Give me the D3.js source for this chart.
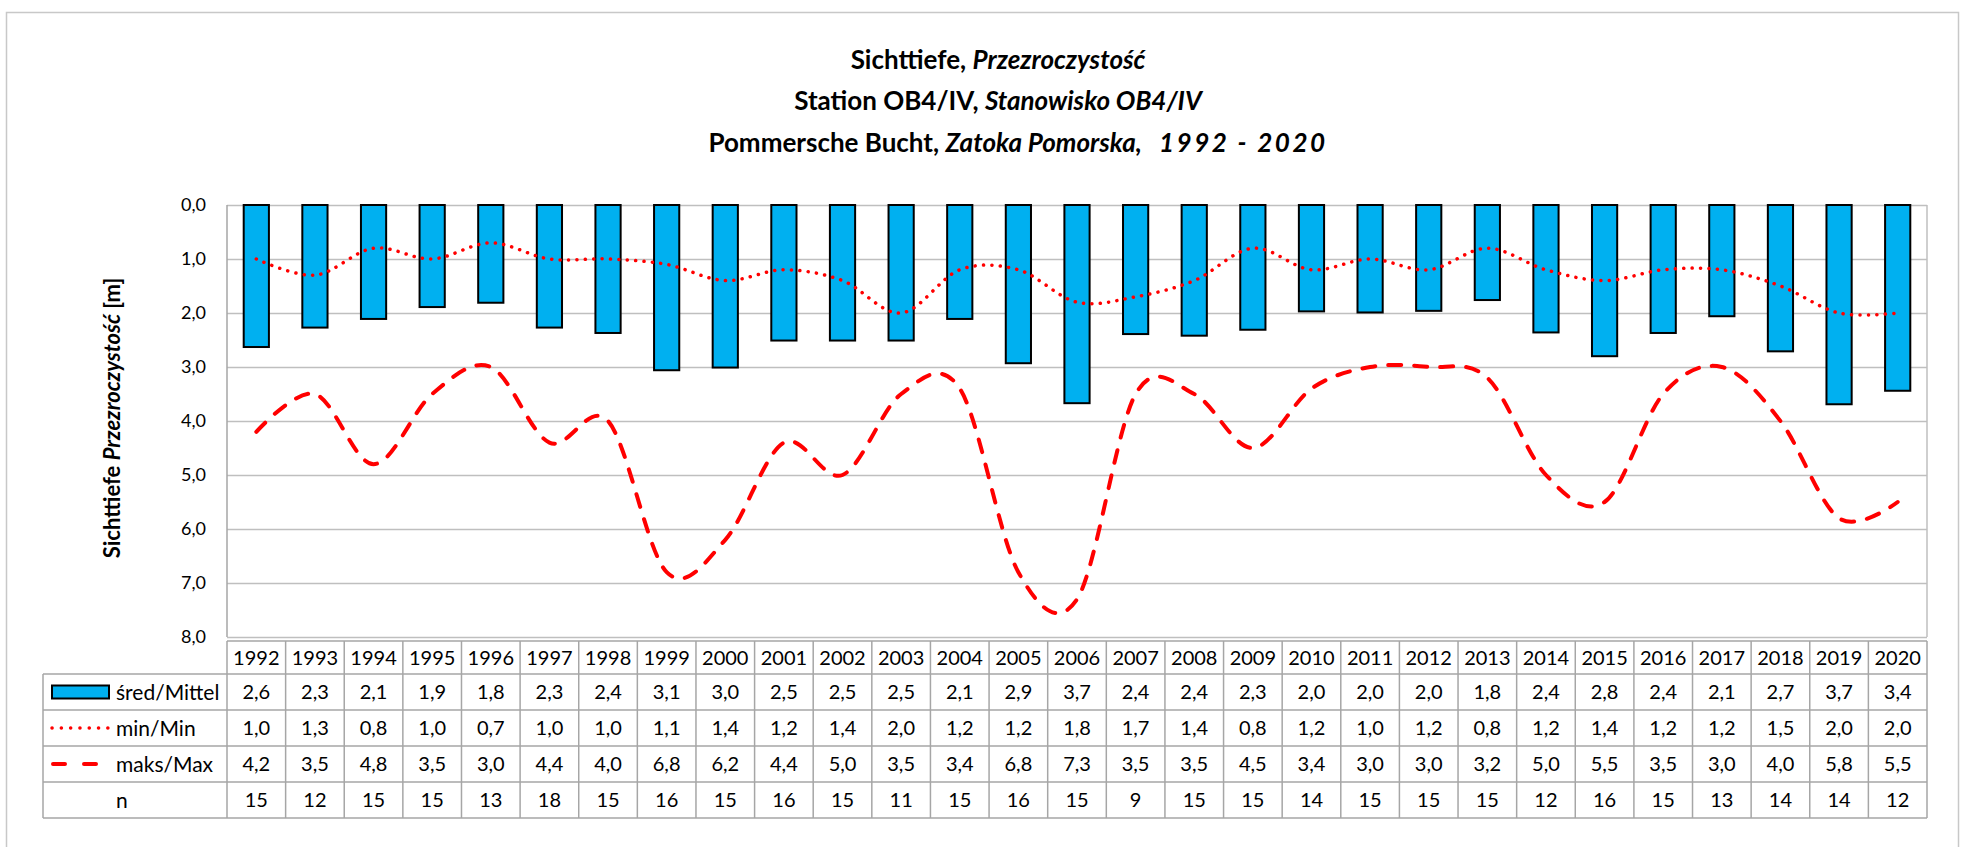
<!DOCTYPE html>
<html lang="pl">
<head>
<meta charset="UTF-8">
<title>Sichttiefe OB4/IV</title>
<style>
    body { margin: 0; background: #fff; }
    text { font-family: 'Lato', 'Open Sans', sans-serif; fill: #000; }
    .title { font-size: 26px; font-weight: bold; white-space: pre; }
    .ytitle { font-size: 22px; font-weight: bold; }
    .tick text { font-size: 18px; font-family: 'Lato', sans-serif; }
    .cell { font-size: 20px; }
    .label { font-size: 21px; }
    .grid line { stroke: #bfbfbf; stroke-width: 1.5px; }
    .tbl { stroke: #a6a6a6; stroke-width: 1.5px; fill: none; }
</style>
</head>
<body>
<script src="https://cdn.jsdelivr.net/npm/d3@7"></script>
<script>

    const years = [1992, 1993, 1994, 1995, 1996, 1997, 1998, 1999, 2000, 2001, 2002, 2003, 2004, 2005,
        2006, 2007, 2008, 2009, 2010, 2011, 2012, 2013, 2014, 2015, 2016, 2017, 2018, 2019, 2020];
    // means as drawn by the bars (table shows them rounded to one decimal)
    const mittel = [2.63, 2.27, 2.11, 1.89, 1.81, 2.27, 2.37, 3.06, 3.01, 2.51, 2.51, 2.51, 2.11, 2.93,
        3.67, 2.39, 2.42, 2.31, 1.97, 1.99, 1.96, 1.76, 2.36, 2.80, 2.37, 2.06, 2.71, 3.69, 3.44];
    const minVals = [1.0, 1.3, 0.8, 1.0, 0.7, 1.0, 1.0, 1.1, 1.4, 1.2, 1.4, 2.0, 1.2, 1.2,
        1.8, 1.7, 1.4, 0.8, 1.2, 1.0, 1.2, 0.8, 1.2, 1.4, 1.2, 1.2, 1.5, 2.0, 2.0];
    const maxVals = [4.2, 3.5, 4.8, 3.5, 3.0, 4.4, 4.0, 6.8, 6.2, 4.4, 5.0, 3.5, 3.4, 6.8,
        7.3, 3.5, 3.5, 4.5, 3.4, 3.0, 3.0, 3.2, 5.0, 5.5, 3.5, 3.0, 4.0, 5.8, 5.5];
    const nVals = [15, 12, 15, 15, 13, 18, 15, 16, 15, 16, 15, 11, 15, 16,
        15, 9, 15, 15, 14, 15, 15, 15, 12, 16, 15, 13, 14, 14, 12];
    const yTicks = [0, 1, 2, 3, 4, 5, 6, 7, 8];
    const rowLabels = ['śred/Mittel', 'min/Min', 'maks/Max', 'n'];

    const size = {'width': 1966, 'height': 847};
    const plot = {'left': 227, 'right': 1927, 'top': 205, 'bottom': 637};
    const table = {'left': 43, 'top': 641, 'yearRow': 33, 'row': 36};

    const fmt = d3.formatLocale({decimal: ',', thousands: '.', grouping: [3], currency: ['', '']}).format('.1f');

    let svg = d3.select('body').append('svg')
        .attr('width', size.width)
        .attr('height', size.height);

    // outer frame
    svg.append('rect')
        .attr('x', 6.5).attr('y', 12.5)
        .attr('width', 1952).attr('height', 900)
        .style('fill', '#fff')
        .style('stroke', '#c8c8c8')
        .style('stroke-width', 1.5);

    // title
    const titleLines = [
        ['Sichttiefe, ', 'Przezroczystość', ''],
        ['Station OB4/IV, ', 'Stanowisko OB4/IV', ''],
        ['Pommersche Bucht, ', 'Zatoka Pomorska,   ', '1992 - 2020']
    ];
    const titleY = [69, 110, 152];
    const titleX = [998, 998, 1018];
    titleLines.forEach(function(l, i) {
        let t = svg.append('text')
            .attr('class', 'title')
            .attr('x', titleX[i])
            .attr('y', titleY[i])
            .attr('text-anchor', 'middle');
        t.append('tspan').text(l[0]);
        t.append('tspan').style('font-style', 'italic').text(l[1]);
        if (l[2]) {
            t.append('tspan')
                .style('font-style', 'italic')
                .style('letter-spacing', '2.5px')
                .text(l[2]);
        }
    });

    let x = d3.scaleBand()
        .domain(years)
        .range([plot.left, plot.right])
        .paddingInner(0.57)
        .paddingOuter(0.285);

    let cols = d3.scaleBand()
        .domain(years)
        .range([plot.left, plot.right]);

    let y = d3.scaleLinear()
        .domain([0, 8])
        .range([plot.top, plot.bottom]);

    // gridlines
    svg.append('g')
        .attr('class', 'grid')
        .attr('transform', 'translate(' + plot.left + ',0)')
        .call(d3.axisLeft(y).tickValues(yTicks).tickSize(-(plot.right - plot.left)).tickFormat(''))
        .call(g => g.select('.domain').remove());

    // left / right edges
    svg.append('line')
        .attr('x1', plot.left).attr('x2', plot.left)
        .attr('y1', plot.top).attr('y2', plot.bottom)
        .style('stroke', '#a6a6a6').style('stroke-width', 1.5);
    svg.append('line')
        .attr('x1', plot.right).attr('x2', plot.right)
        .attr('y1', plot.top).attr('y2', plot.bottom)
        .style('stroke', '#bfbfbf').style('stroke-width', 1.5);

    // y axis labels
    svg.append('g')
        .attr('transform', 'translate(' + (plot.left - 21) + ',0)')
        .call(d3.axisLeft(y).tickValues(yTicks).tickSize(0).tickPadding(0).tickFormat(fmt))
        .call(g => g.select('.domain').remove())
        .call(g => g.selectAll('text').style('fill', '#000'));

    let yTitle = svg.append('text')
        .attr('class', 'ytitle')
        .attr('text-anchor', 'middle')
        .attr('transform', 'translate(120,' + ((plot.top + plot.bottom) / 2 - 3) + ') rotate(-90)');
    yTitle.append('tspan').text('Sichttiefe ');
    yTitle.append('tspan').style('font-style', 'italic').text('Przezroczystość');
    yTitle.append('tspan').text(' [m]');

    // bars
    svg.append('g').selectAll('rect')
        .data(mittel)
        .enter().append('rect')
        .attr('x', (d, i) => x(years[i]))
        .attr('y', y(0))
        .attr('width', x.bandwidth())
        .attr('height', d => y(d) - y(0))
        .style('fill', '#00b0f0')
        .style('stroke', '#000')
        .style('stroke-width', 2);

    let line = d3.line()
        .x((d, i) => x(years[i]) + x.bandwidth() / 2)
        .y(d => y(d))
        .curve(d3.curveCardinal.tension(0));

    svg.append('path')
        .datum(maxVals)
        .attr('d', line)
        .style('fill', 'none')
        .style('stroke', '#ff0000')
        .style('stroke-width', 4)
        .style('stroke-linecap', 'round')
        .style('stroke-dasharray', '13,13');

    svg.append('path')
        .datum(minVals)
        .attr('d', line)
        .style('fill', 'none')
        .style('stroke', '#ff0000')
        .style('stroke-width', 3.5)
        .style('stroke-linecap', 'round')
        .style('stroke-dasharray', '0.1,8.3');

    // data table
    let tbl = svg.append('g');
    const rows = [mittel.map(fmt), minVals.map(fmt), maxVals.map(fmt), nVals.map(String)];
    const tableBottom = table.top + table.yearRow + rows.length * table.row;

    // year row
    tbl.selectAll('.yr')
        .data(years)
        .enter().append('text')
        .attr('class', 'cell')
        .attr('x', d => cols(d) + cols.bandwidth() / 2)
        .attr('y', table.top + table.yearRow / 2 + 7)
        .attr('text-anchor', 'middle')
        .text(d => d);

    rows.forEach(function(r, j) {
        let top = table.top + table.yearRow + j * table.row;
        tbl.append('g').selectAll('text')
            .data(r)
            .enter().append('text')
            .attr('class', 'cell')
            .attr('x', (d, i) => cols(years[i]) + cols.bandwidth() / 2)
            .attr('y', top + table.row / 2 + 7)
            .attr('text-anchor', 'middle')
            .text(d => d);
        tbl.append('text')
            .attr('class', 'label')
            .attr('x', 116)
            .attr('y', top + table.row / 2 + 8)
            .text(rowLabels[j]);
        tbl.append('line')
            .attr('class', 'tbl')
            .attr('x1', table.left).attr('x2', plot.right)
            .attr('y1', top).attr('y2', top);
    });

    // table lines
    tbl.append('line')
        .attr('class', 'tbl')
        .attr('x1', plot.left).attr('x2', plot.right)
        .attr('y1', table.top).attr('y2', table.top);
    tbl.append('line')
        .attr('class', 'tbl')
        .attr('x1', table.left).attr('x2', plot.right)
        .attr('y1', tableBottom).attr('y2', tableBottom);
    tbl.append('line')
        .attr('class', 'tbl')
        .attr('x1', table.left).attr('x2', table.left)
        .attr('y1', table.top + table.yearRow).attr('y2', tableBottom);
    tbl.selectAll('.vl')
        .data(years.concat(['end']))
        .enter().append('line')
        .attr('class', 'tbl')
        .attr('x1', d => d === 'end' ? plot.right : cols(d))
        .attr('x2', d => d === 'end' ? plot.right : cols(d))
        .attr('y1', table.top).attr('y2', tableBottom);

    // legend keys in table
    let keyTop = table.top + table.yearRow;
    tbl.append('rect')
        .attr('x', 52).attr('y', keyTop + table.row / 2 - 6.5)
        .attr('width', 57).attr('height', 13)
        .style('fill', '#00b0f0')
        .style('stroke', '#000')
        .style('stroke-width', 2);
    tbl.append('line')
        .attr('x1', 52).attr('x2', 108)
        .attr('y1', keyTop + table.row * 1.5).attr('y2', keyTop + table.row * 1.5)
        .style('stroke', '#ff0000')
        .style('stroke-width', 3.5)
        .style('stroke-linecap', 'round')
        .style('stroke-dasharray', '0.1,9.2');
    tbl.append('line')
        .attr('x1', 53).attr('x2', 98)
        .attr('y1', keyTop + table.row * 2.5).attr('y2', keyTop + table.row * 2.5)
        .style('stroke', '#ff0000')
        .style('stroke-width', 4)
        .style('stroke-linecap', 'round')
        .style('stroke-dasharray', '12,19');

</script>
</body>
</html>
